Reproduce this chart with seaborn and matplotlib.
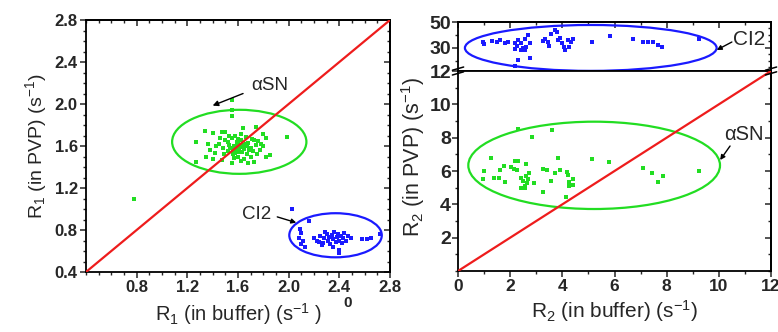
import matplotlib
matplotlib.use("Agg")
import matplotlib.pyplot as plt
import seaborn as sns
import pandas as pd
from matplotlib.patches import Ellipse
from matplotlib.ticker import MultipleLocator, FixedLocator

# ---------------- data ----------------
# Left panel: R1 in buffer (x) vs R1 in PVP (y)
asn_r1_buffer = [0.78, 1.55, 1.55, 1.55, 1.99, 1.27, 1.27, 1.34, 1.35, 1.40, 1.47, 1.50,
                 1.64, 1.74, 1.80, 1.82, 1.85, 1.82, 1.73, 1.68, 1.55, 1.47, 1.42,
                 1.45, 1.48, 1.50, 1.52, 1.53, 1.55, 1.56, 1.57, 1.58, 1.59, 1.60, 1.60,
                 1.61, 1.62, 1.63, 1.64, 1.65, 1.66, 1.67, 1.68, 1.70, 1.71, 1.72, 1.74,
                 1.76, 1.77, 1.78, 1.62, 1.58, 1.53, 1.49, 1.46, 1.43, 1.57, 1.65, 1.70,
                 1.75, 1.80, 1.56, 1.61, 1.63, 1.59, 1.54, 1.66, 1.69, 1.52, 1.60, 1.67,
                 1.73, 1.38, 1.36, 1.40, 1.62, 1.58]
asn_r1_pvp = [1.10, 2.04, 1.94, 1.89, 1.69, 1.64, 1.45, 1.74, 1.50, 1.72, 1.73, 1.73,
              1.77, 1.78, 1.71, 1.68, 1.51, 1.50, 1.45, 1.44, 1.44, 1.47, 1.53,
              1.62, 1.58, 1.66, 1.55, 1.61, 1.68, 1.52, 1.60, 1.57, 1.64, 1.50, 1.62,
              1.58, 1.66, 1.54, 1.61, 1.57, 1.69, 1.52, 1.63, 1.58, 1.67, 1.55, 1.61,
              1.65, 1.56, 1.62, 1.71, 1.70, 1.70, 1.52, 1.68, 1.60, 1.49, 1.48, 1.50,
              1.52, 1.60, 1.56, 1.54, 1.59, 1.60, 1.58, 1.62, 1.56, 1.64, 1.67, 1.60,
              1.66, 1.56, 1.62, 1.48, 1.46, 1.53]

ci2_r1_buffer = [2.03, 2.16, 2.09, 2.10, 2.08, 2.11, 2.10, 2.13, 2.20, 2.22, 2.25, 2.27,
                 2.28, 2.30, 2.31, 2.32, 2.33, 2.34, 2.35, 2.36, 2.37, 2.38, 2.39, 2.40,
                 2.41, 2.42, 2.43, 2.44, 2.45, 2.47, 2.49, 2.40, 2.40, 2.58, 2.62, 2.65,
                 2.72, 2.26, 2.35, 2.29, 2.24]
ci2_r1_pvp = [1.00, 0.89, 0.81, 0.77, 0.72, 0.70, 0.67, 0.64, 0.72, 0.70, 0.74, 0.68,
              0.72, 0.76, 0.70, 0.73, 0.67, 0.75, 0.71, 0.78, 0.69, 0.73, 0.76, 0.70,
              0.74, 0.68, 0.72, 0.77, 0.70, 0.74, 0.72, 0.61, 0.58, 0.71, 0.71, 0.72,
              0.76, 0.66, 0.64, 0.78, 0.69]

# Right panel: R2 in buffer (x) vs R2 in PVP (y)
asn_r2_buffer = [2.29, 3.59, 2.83, 1.27, 5.13, 5.79, 3.82, 1.01, 0.97, 1.39, 1.58, 1.61,
                 1.78, 1.80, 2.03, 2.18, 2.31, 2.16, 2.25, 2.60, 2.42, 2.48, 2.40, 2.55,
                 2.62, 2.68, 2.66, 2.72, 2.58, 2.93, 3.27, 3.40, 3.57, 3.72, 3.91, 4.17,
                 4.22, 4.25, 4.25, 4.40, 4.40, 3.27, 4.13, 7.10, 7.42, 7.87, 7.68, 9.25]
asn_r2_pvp = [8.50, 8.46, 8.06, 6.76, 6.72, 6.52, 6.76, 6.02, 5.52, 5.60, 5.60, 6.06,
              6.30, 5.36, 6.26, 6.60, 6.60, 6.10, 6.06, 6.42, 5.60, 5.40, 5.00, 5.00,
              5.70, 5.50, 5.30, 5.90, 5.10, 5.26, 6.10, 6.06, 5.40, 5.86, 6.06, 5.96,
              5.75, 5.35, 5.10, 5.50, 5.15, 4.76, 4.46, 6.16, 5.90, 5.70, 5.36, 6.00]

ci2_r2_buffer = [0.97, 1.01, 1.29, 1.48, 1.62, 1.80, 1.93, 2.20, 2.25, 2.30, 2.40, 2.50,
                 2.58, 2.68, 2.20, 2.42, 2.55, 2.62, 2.75, 2.31, 2.76, 2.19, 3.26, 3.35,
                 3.45, 3.55, 3.50, 3.70, 3.78, 3.82, 3.92, 3.98, 4.05, 4.12, 4.20, 4.25,
                 4.33, 4.40, 5.13, 5.83, 6.70, 7.10, 7.30, 7.46, 7.68, 7.81, 9.25]
ci2_r2_pvp = [34.7, 32.9, 35.5, 34.5, 35.8, 34.0, 34.8, 34.0, 31.5, 35.8, 33.5, 29.5,
              36.5, 40.0, 29.0, 28.0, 28.0, 31.0, 34.0, 20.5, 21.8, 16.1, 35.5, 37.0,
              34.5, 40.5, 31.5, 44.0, 42.0, 36.0, 37.5, 34.0, 30.5, 28.5, 36.0, 31.0,
              34.5, 37.0, 34.7, 39.5, 36.6, 34.7, 34.7, 34.5, 32.2, 30.9, 36.5]

# identity lines
diag_left = [0.4, 2.8]
diag_right = [0.0, 12.0]

# ellipses: (center x, center y, width, height)
ell_left_asn = (1.61, 1.64, 1.06, 0.61)
ell_left_ci2 = (2.37, 0.75, 0.73, 0.42)
ell_right_asn = (5.22, 6.34, 9.65, 5.24)
ell_right_ci2 = (5.09, 29.9, 9.65, 35.6)

# tick labels
left_xticks = [0.8, 1.2, 1.6, 2.0, 2.4, 2.8]
left_yticks = [0.4, 0.8, 1.2, 1.6, 2.0, 2.4, 2.8]
right_xticks = [0, 2, 4, 6, 8, 10, 12]
right_low_yticks = [2, 4, 6, 8, 10, 12]
right_up_yticks = [30, 50]

GREEN = "#22dd22"
BLUE = "#1a1aff"
RED = "#ee1c1c"

# ---------------- style ----------------
sns.set_style("ticks")
plt.rcParams['font.family'] = ['Liberation Sans', 'DejaVu Sans']
plt.rcParams['mathtext.fontset'] = 'custom'
plt.rcParams['mathtext.rm'] = 'Liberation Sans'
plt.rcParams['mathtext.it'] = 'Liberation Sans:italic'
plt.rcParams['mathtext.bf'] = 'Liberation Sans:bold'
plt.rcParams['axes.linewidth'] = 1.3
plt.rcParams['axes.edgecolor'] = 'black'

fig = plt.figure(figsize=(7.78, 3.32), dpi=100)
axL = fig.add_axes([0.1105, 0.1807, 0.3908, 0.759])
axU = fig.add_axes([0.5887, 0.7861, 0.4023, 0.1476])
axB = fig.add_axes([0.5887, 0.1837, 0.4023, 0.6024])


def scat(ax, x, y, color):
    sns.scatterplot(data=pd.DataFrame({"x": x, "y": y}), x="x", y="y", ax=ax,
                    color=color, marker='s', s=8, linewidth=0, zorder=3)


def ellipse(ax, e, color):
    ax.add_patch(Ellipse((e[0], e[1]), e[2], e[3], fill=False, edgecolor=color,
                         lw=1.6, zorder=2))


def arrow(ax, tail, head, ms=7):
    ax.annotate("", xy=head, xytext=tail, annotation_clip=False,
                arrowprops=dict(arrowstyle='-|>', color='black', lw=1.0,
                                mutation_scale=ms, shrinkA=0, shrinkB=0))


def mirror_ticks(ax, top=True, right=True, xminor=None, yminor=None, xticks=None, yticks=None):
    if top:
        sx = ax.secondary_xaxis('top')
        sx.set_xticks(xticks)
        sx.xaxis.set_minor_locator(MultipleLocator(xminor))
        sx.tick_params(which='major', direction='in', length=4, width=1.1, labeltop=False)
        sx.tick_params(which='minor', direction='in', length=2.2, width=1.0)
    if right:
        sy = ax.secondary_yaxis('right')
        sy.set_yticks(yticks)
        sy.yaxis.set_minor_locator(MultipleLocator(yminor))
        sy.tick_params(which='major', direction='in', length=4, width=1.1, labelright=False)
        sy.tick_params(which='minor', direction='in', length=2.2, width=1.0)


# ---------------- left panel ----------------
scat(axL, asn_r1_buffer, asn_r1_pvp, GREEN)
scat(axL, ci2_r1_buffer, ci2_r1_pvp, BLUE)
sns.lineplot(x=diag_left, y=diag_left, ax=axL, color=RED, lw=1.6, zorder=4)
ellipse(axL, ell_left_asn, GREEN)
ellipse(axL, ell_left_ci2, BLUE)
axL.set_xlim(0.4, 2.8)
axL.set_ylim(0.4, 2.8)
axL.set_xticks(left_xticks)
axL.set_xticklabels([f"{v:.1f}" for v in left_xticks])
axL.set_yticks(left_yticks)
axL.set_yticklabels([f"{v:.1f}" for v in left_yticks])
axL.xaxis.set_minor_locator(MultipleLocator(0.1))
axL.yaxis.set_minor_locator(MultipleLocator(0.1))
axL.tick_params(which='major', direction='out', length=4, width=1.1, labelsize=12, pad=2)
axL.tick_params(which='minor', direction='out', length=2.2, width=1.0)
for t in axL.get_xticklabels() + axL.get_yticklabels():
    t.set_fontweight('bold')
mirror_ticks(axL, xminor=0.1, yminor=0.1, xticks=left_xticks, yticks=left_yticks)
axL.set_xlabel(r"R$_1$ (in buffer) (s$^{-1}$ )", fontsize=14.5, labelpad=4)
axL.set_ylabel(r"R$_1$ (in PVP) (s$^{-1}$)", fontsize=14, labelpad=4)
axL.text(1.85, 2.18, "αSN", fontsize=13.5, ha='center', va='center')
arrow(axL, (1.64, 2.10), (1.40, 1.985), ms=8)
axL.text(1.75, 0.945, "CI2", fontsize=13.5, ha='center', va='center')
arrow(axL, (1.91, 0.925), (2.06, 0.87))
fig.text(348 / 778, 1 - 303 / 332, "0", fontsize=11, fontweight='bold',
         ha='center', va='center')

# ---------------- right panel, upper (broken) ----------------
scat(axU, ci2_r2_buffer, ci2_r2_pvp, BLUE)
ellipse(axU, ell_right_ci2, BLUE)
axU.set_xlim(0, 12)
axU.set_ylim(12, 50)
axU.set_xticks(right_xticks)
axU.xaxis.set_minor_locator(MultipleLocator(1))
axU.tick_params(axis='x', which='both', bottom=False, labelbottom=False)
axU.set_yticks(right_up_yticks)
axU.yaxis.set_minor_locator(FixedLocator([20, 40]))
axU.tick_params(axis='y', which='major', direction='out', length=4, width=1.1, labelsize=14, pad=1)
axU.tick_params(axis='y', which='minor', direction='out', length=2.2, width=1.0)
for t in axU.get_yticklabels():
    t.set_fontweight('bold')
axU.set_xlabel("")
axU.set_ylabel("")
mirror_ticks(axU, xminor=1, yminor=5, xticks=right_xticks, yticks=right_up_yticks)
axU.text(11.15, 36.5, "CI2", fontsize=15, ha='center', va='center')
arrow(axU, (10.5, 34.5), (9.92, 28.3))

# ---------------- right panel, lower ----------------
scat(axB, asn_r2_buffer, asn_r2_pvp, GREEN)
sns.lineplot(x=diag_right, y=diag_right, ax=axB, color=RED, lw=1.6, zorder=4)
ellipse(axB, ell_right_asn, GREEN)
axB.set_xlim(0, 12)
axB.set_ylim(0, 12)
axB.set_xticks(right_xticks)
axB.set_xticklabels([str(v) for v in right_xticks])
axB.set_yticks(right_low_yticks)
axB.set_yticklabels([str(v) for v in right_low_yticks])
axB.xaxis.set_minor_locator(MultipleLocator(1))
axB.yaxis.set_minor_locator(MultipleLocator(1))
axB.tick_params(which='major', direction='out', length=4, width=1.1, pad=2)
axB.tick_params(which='minor', direction='out', length=2.2, width=1.0)
axB.tick_params(axis='x', labelsize=12.5)
axB.tick_params(axis='y', labelsize=14, pad=1)
for t in axB.get_xticklabels() + axB.get_yticklabels():
    t.set_fontweight('bold')
mirror_ticks(axB, top=False, yminor=1, yticks=right_low_yticks)
axB.set_xlabel(r"R$_2$ (in buffer) (s$^{-1}$)", fontsize=15, labelpad=3)
axB.set_ylabel(r"R$_2$ (in PVP) (s$^{-1}$)", fontsize=15.5, labelpad=3)
axB.yaxis.set_label_coords(-0.1, 0.57)
axB.text(10.95, 8.2, "αSN", fontsize=14.5, ha='center', va='center')
arrow(axB, (10.43, 7.5), (10.05, 6.66))

# break marks on the broken axis
for xb in (0.0, 1.0):
    for dy in (-0.012, 0.012):
        axB.plot([xb - 0.018, xb + 0.018], [1 + dy - 0.008, 1 + dy + 0.008],
                 transform=axB.transAxes, color='black', lw=1.1, clip_on=False, zorder=6)

fig.savefig("out.png", dpi=100)
